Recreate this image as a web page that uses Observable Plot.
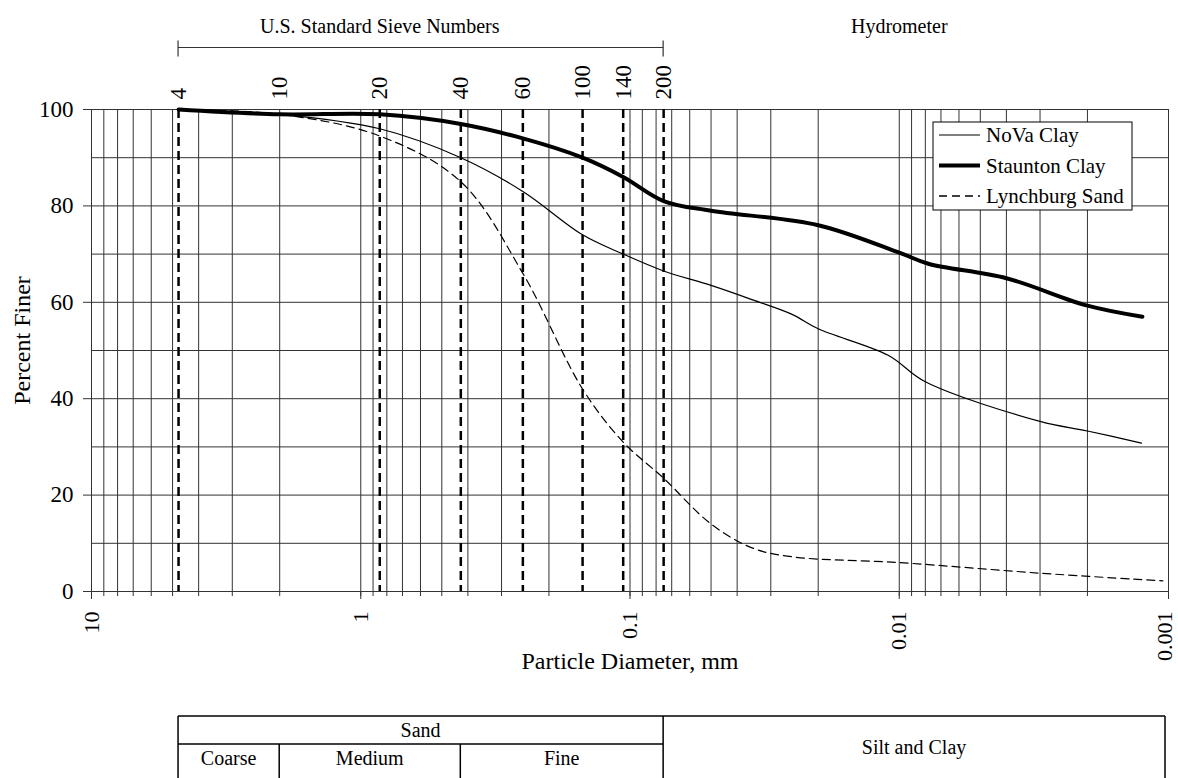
<!DOCTYPE html>
<html>
<head>
<meta charset="utf-8">
<script src="https://cdn.jsdelivr.net/npm/d3@7"></script>
<script src="https://cdn.jsdelivr.net/npm/@observablehq/plot@0.6"></script>
<style>
  html, body { margin: 0; padding: 0; background: #fff; }
  svg { display: block; }
</style>
</head>
<body>
<div id="chart"></div>
<script>
const FONT = '"Liberation Serif", "Times New Roman", Times, serif';

// Sieve annotations
const sieveNumbers = ["4", "10", "20", "40", "60", "100", "140", "200"];
const sieveSizes = [4.75, 2.0, 0.85, 0.425, 0.25, 0.15, 0.106, 0.075];
const dashedSieves = [4.75, 0.85, 0.425, 0.25, 0.15, 0.106, 0.075];

// Axis ticks
const xTickValues = [10, 1, 0.1, 0.01, 0.001];
const xTickLabels = ["10", "1", "0.1", "0.01", "0.001"];
const yTickValues = [0, 20, 40, 60, 80, 100];
const yGridValues = [0, 10, 20, 30, 40, 50, 60, 70, 80, 90, 100];
const xGridValues = [];
for (const k of [-3, -2, -1, 0]) for (let m = 1; m <= 9; m++) xGridValues.push(+(m * Math.pow(10, k)).toPrecision(6));
xGridValues.push(10);

// Series: particle diameter (mm) and percent finer
const novaD = [4.75, 2.0, 0.85, 0.425, 0.25, 0.15, 0.106, 0.075, 0.05, 0.035, 0.025, 0.02, 0.011, 0.008, 0.003, 0.002, 0.00126];
const novaP = [100, 99, 96, 90, 83, 74, 70, 66.5, 63.5, 60.5, 57.5, 54.5, 49, 43.5, 35.3, 33.3, 30.8];

const stauD = [4.75, 2.0, 0.85, 0.425, 0.25, 0.15, 0.106, 0.075, 0.05, 0.02, 0.01, 0.0078, 0.004, 0.002, 0.00125];
const stauP = [100, 99, 99, 97, 94, 90, 86, 81, 79, 76, 70.3, 68, 65, 59.3, 57];

const lynD = [4.75, 2.0, 0.85, 0.425, 0.25, 0.15, 0.106, 0.075, 0.05, 0.035, 0.025, 0.01, 0.003, 0.00105];
const lynP = [100, 99, 94.5, 85, 66, 42, 31, 23.5, 14, 9, 7.2, 6.0, 3.8, 2.2];

const seriesNames = ["NoVa Clay", "Staunton Clay", "Lynchburg Sand"];

const toRows = (D, P) => D.map((d, i) => ({d, p: P[i]}));
const nova = toRows(novaD, novaP);
const stau = toRows(stauD, stauP);
const lyn = toRows(lynD, lynP);

const gridColor = "#333";

const plot = Plot.plot({
  width: 1178,
  height: 778,
  marginTop: 109,
  marginLeft: 91,
  marginRight: 10,
  marginBottom: 187,
  style: {fontFamily: FONT, background: "#fff", color: "#000", overflow: "visible"},
  x: {type: "log", domain: [10, 0.001]},
  y: {domain: [0, 100]},
  marks: [
    Plot.ruleY(yGridValues, {stroke: gridColor, strokeWidth: 1}),
    Plot.ruleX(xGridValues, {stroke: gridColor, strokeWidth: 1}),
    Plot.axisX({ticks: xGridValues, tickSize: 5, tickFormat: () => "", label: null, stroke: gridColor}),
    Plot.axisX({ticks: xTickValues, tickSize: 8, tickFormat: () => "", label: null, stroke: gridColor}),
    Plot.axisY({ticks: yTickValues, tickSize: 8, tickPadding: 10, fontSize: 23, label: null, tickFormat: d => String(d), stroke: gridColor}),
    Plot.ruleX(dashedSieves, {stroke: "#000", strokeWidth: 2.5, strokeDasharray: "9,5"}),
    Plot.line(nova, {x: "d", y: "p", stroke: "#000", strokeWidth: 1.2, curve: "catmull-rom"}),
    Plot.line(lyn, {x: "d", y: "p", stroke: "#000", strokeWidth: 1.2, strokeDasharray: "8,5", curve: "catmull-rom"}),
    Plot.line(stau, {x: "d", y: "p", stroke: "#000", strokeWidth: 4, curve: "catmull-rom"}),
    Plot.text(xTickValues.slice(0, 4), {x: d => d, text: (d, i) => xTickLabels[i], frameAnchor: "bottom", dy: 20, rotate: -90, textAnchor: "end", lineAnchor: "middle", fontSize: 22}),
    Plot.text(xTickValues.slice(4), {x: d => d, text: (d, i) => xTickLabels[4 + i], frameAnchor: "bottom", dy: 20, dx: -4, rotate: -90, textAnchor: "end", lineAnchor: "middle", fontSize: 22}),
    Plot.text(sieveSizes, {x: d => d, text: (d, i) => sieveNumbers[i], frameAnchor: "top", dy: -10, rotate: -90, textAnchor: "start", lineAnchor: "middle", fontSize: 23}),
    Plot.text(["Percent Finer"], {frameAnchor: "left", dx: -69, dy: -10, rotate: -90, textAnchor: "middle", fontSize: 24}),
    Plot.text(["Particle Diameter, mm"], {frameAnchor: "bottom", dy: 77, textAnchor: "middle", fontSize: 24}),
    Plot.text(["U.S. Standard Sieve Numbers"], {x: 0.85, frameAnchor: "top", dy: -91, textAnchor: "middle", fontSize: 20}),
    Plot.text(["Hydrometer"], {x: 0.01, frameAnchor: "top", dy: -91, textAnchor: "middle", fontSize: 20})
  ]
});

document.getElementById("chart").appendChild(plot);

const X = plot.scale("x").apply;
const svg = d3.select(plot);
const g = svg.append("g").attr("font-family", FONT).attr("fill", "#000");

// Sieve bracket
const bx1 = X(4.75), bx2 = X(0.075), by = 47.5;
g.append("line").attr("x1", bx1).attr("x2", bx2).attr("y1", by).attr("y2", by).attr("stroke", gridColor).attr("stroke-width", 1.2);
for (const bx of [bx1, bx2]) g.append("line").attr("x1", bx).attr("x2", bx).attr("y1", by - 7).attr("y2", by + 9).attr("stroke", gridColor).attr("stroke-width", 1.2);

// Legend
const lg = g.append("g");
lg.append("rect").attr("x", 933).attr("y", 122).attr("width", 199).attr("height", 88).attr("fill", "#fff").attr("stroke", "#000").attr("stroke-width", 1);
const legendStyles = [{w: 1.2, dash: null}, {w: 4, dash: null}, {w: 1.6, dash: "8,5"}];
seriesNames.forEach((name, i) => {
  const y = 135 + i * 30.5;
  const ln = lg.append("line").attr("x1", 939).attr("x2", 980).attr("y1", y).attr("y2", y).attr("stroke", "#000").attr("stroke-width", legendStyles[i].w);
  if (legendStyles[i].dash) ln.attr("stroke-dasharray", legendStyles[i].dash);
  lg.append("text").attr("x", 986).attr("y", y).attr("dy", "0.35em").attr("text-anchor", "start").attr("font-size", 21).text(name);
});

// Soil classification table
const xl = X(4.75), xc = X(2.0), xm = X(0.425), xs = X(0.075), xr = X(0.001) - 3;
const tTop = 716, tMid = 744, tBot = 778;
const tl = (x1, y1, x2, y2) => g.append("line").attr("x1", x1).attr("y1", y1).attr("x2", x2).attr("y2", y2).attr("stroke", "#000").attr("stroke-width", 1.5);
tl(xl, tTop, xr, tTop);
tl(xl, tTop, xl, tBot);
tl(xr, tTop, xr, tBot);
tl(xs, tTop, xs, tBot);
tl(xl, tMid, xs, tMid);
tl(xc, tMid, xc, tBot);
tl(xm, tMid, xm, tBot);
const tt = (x, y, s) => g.append("text").attr("x", x).attr("y", y).attr("dy", "0.35em").attr("text-anchor", "middle").attr("font-size", 20).text(s);
tt((xl + xs) / 2, 730, "Sand");
tt((xl + xc) / 2, 758, "Coarse");
tt((xc + xm) / 2, 758, "Medium");
tt((xm + xs) / 2, 758, "Fine");
tt((xs + xr) / 2, 747, "Silt and Clay");
</script>
</body>
</html>
